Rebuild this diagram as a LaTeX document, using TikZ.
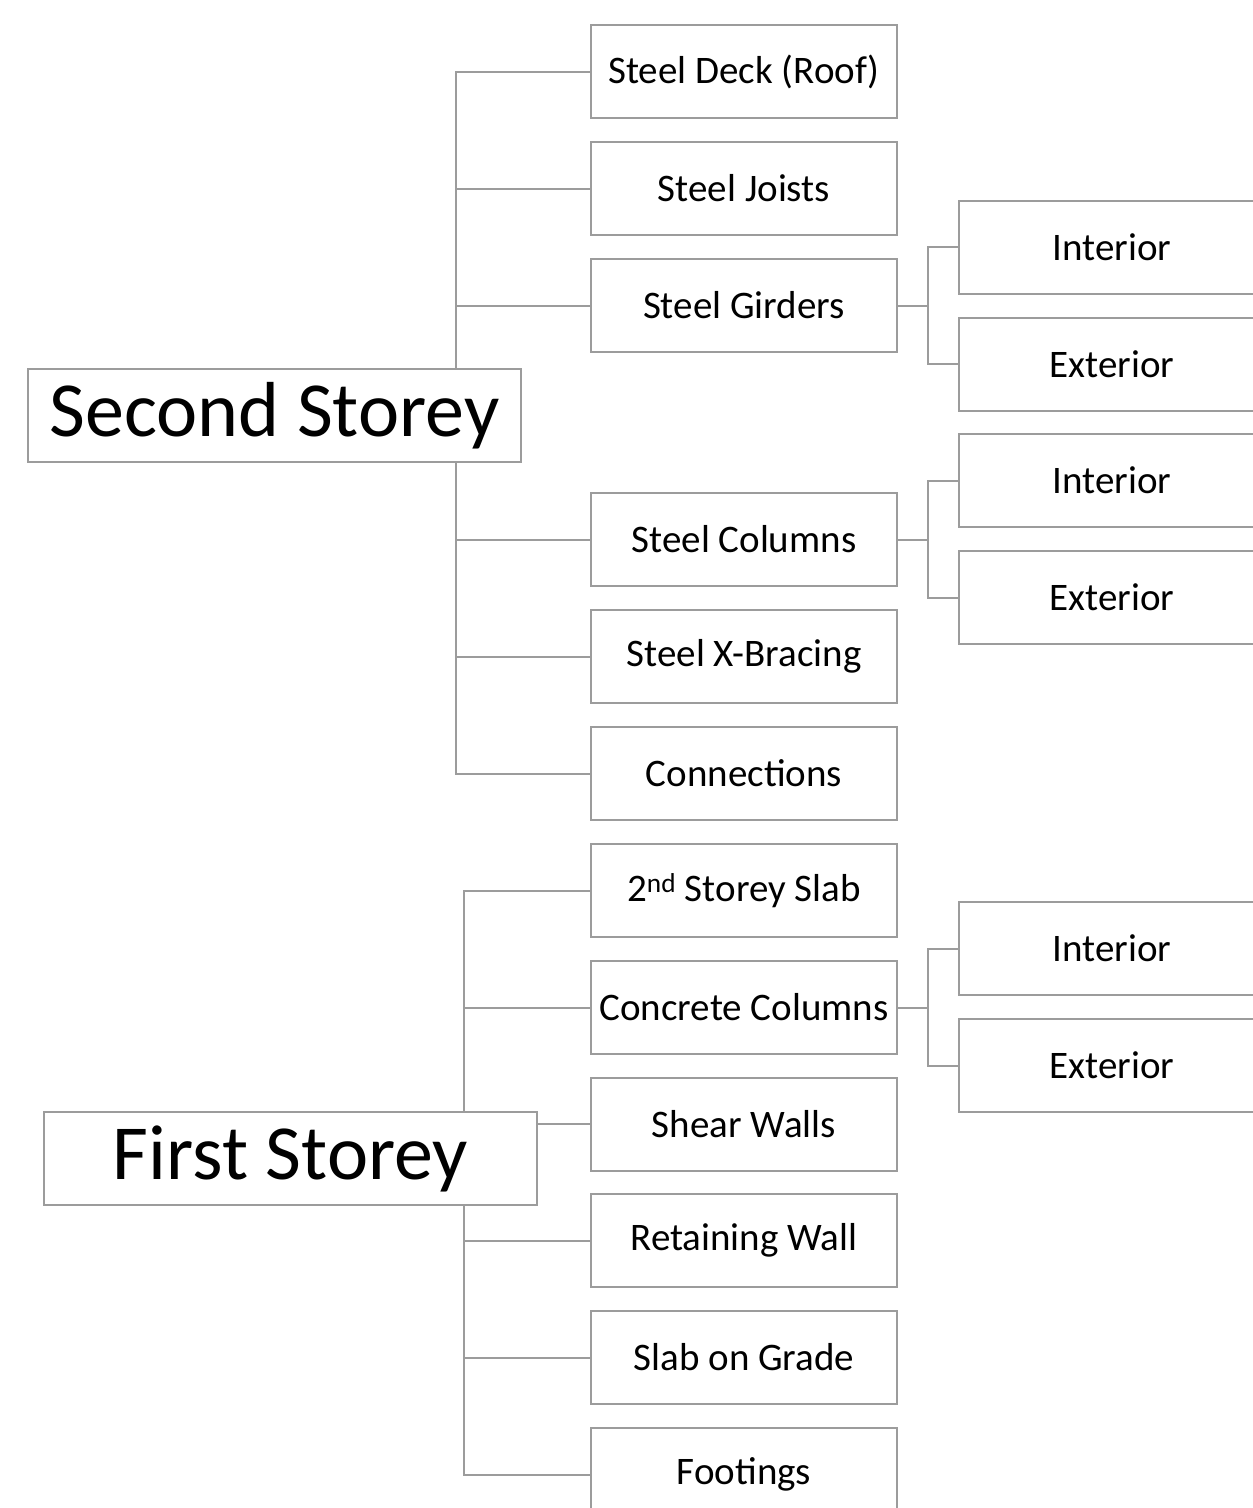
\documentclass[tikz,border=0pt]{standalone}
\usepackage{fontspec}
\setmainfont{Carlito}
\definecolor{ln}{HTML}{9C9C9C}
\begin{document}
\begin{tikzpicture}[x=1pt,y=-1pt,
  conn/.style={draw=ln,line width=2pt},
  box/.style={draw=ln,line width=2pt,fill=white,minimum width=306pt,minimum height=93pt,inner sep=0pt,font=\fontsize{39}{47}\selectfont},
  root/.style={draw=ln,line width=2pt,fill=white,minimum width=493pt,minimum height=93pt,inner sep=0pt,font=\fontsize{78}{92}\selectfont}]
\useasboundingbox (0,0) rectangle (1253,1508);
% coordinates
\coordinate (t2) at (456,415.5);
\coordinate (t1) at (464,1158.5);
% connectors (drawn first so boxes cover them)
\coordinate (p1) at (744,71.5);
\coordinate (p2) at (744,188.5);
\coordinate (p3) at (744,305.5);
\coordinate (p4) at (744,539.5);
\coordinate (p5) at (744,656.5);
\coordinate (p6) at (744,773.5);
\coordinate (q1) at (744,890.5);
\coordinate (q2) at (744,1007.5);
\coordinate (q3) at (744,1124);
\coordinate (q4) at (744,1240.5);
\coordinate (q5) at (744,1357.5);
\coordinate (q6) at (744,1474.5);
\foreach \c in {p1,p2,p3,p4,p5,p6} \draw[conn] (t2) |- (\c);
\foreach \c in {q1,q2,q4,q5,q6} \draw[conn] (t1) |- (\c);
\draw[conn] (t1) |- (q3);
% sub junctions
\coordinate (j1) at (928,305.5);
\coordinate (j2) at (928,539.5);
\coordinate (j3) at (928,1007.5);
\coordinate (r1) at (1112,247);
\coordinate (r2) at (1112,364);
\coordinate (r3) at (1112,480.5);
\coordinate (r4) at (1112,597.5);
\coordinate (r5) at (1112,948.5);
\coordinate (r6) at (1112,1065.5);
\draw[conn] (p3) -- (j1) |- (r1);
\draw[conn] (j1) |- (r2);
\draw[conn] (p4) -- (j2) |- (r3);
\draw[conn] (j2) |- (r4);
\draw[conn] (q2) -- (j3) |- (r5);
\draw[conn] (j3) |- (r6);
% boxes
\node[root] (ss) at (274.5,415.5) {Second Storey};
\node[root] (fs) at (290.5,1158.5) {First Storey};
\node[box] (a1) at (p1) {Steel Deck (Roof)};
\node[box] (a2) at (p2) {Steel Joists};
\node[box] (a3) at (p3) {Steel Girders};
\node[box] (a4) at (p4) {Steel Columns};
\node[box] (a5) at (p5) {Steel X-Bracing};
\node[box] (a6) at (p6) {Connections};
\node[box] (b1) at (q1) {2\textsuperscript{nd} Storey Slab};
\node[box] (b2) at (q2) {Concrete Columns};
\node[box] (b3) at (q3) {Shear Walls};
\node[box] (b4) at (q4) {Retaining Wall};
\node[box] (b5) at (q5) {Slab on Grade};
\node[box] (b6) at (q6) {Footings};
\node[box] (c1) at (r1) {Interior};
\node[box] (c2) at (r2) {Exterior};
\node[box] (c3) at (r3) {Interior};
\node[box] (c4) at (r4) {Exterior};
\node[box] (c5) at (r5) {Interior};
\node[box] (c6) at (r6) {Exterior};
\end{tikzpicture}
\end{document}
